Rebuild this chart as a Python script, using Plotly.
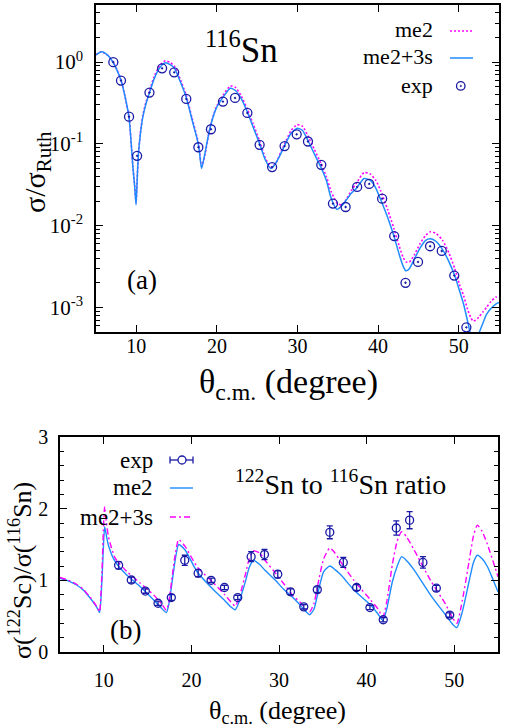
import plotly.graph_objects as go
from plotly.subplots import make_subplots

W, H = 506, 728
FONT = "Liberation Serif, Times New Roman, serif"
BLUE = "#1e8cff"
MAGENTA = "#ff00ff"
NAVY = "#1a1aa6"

# ---- panel (a): 116Sn angular distribution (ratio to Rutherford) ----
theta_a = [5.0, 5.7, 6.5, 7.15, 7.6, 8.1, 8.6, 9.1, 9.58, 9.8, 9.97, 10.1, 10.25, 10.5, 10.82,
           11.2, 11.63, 12.2, 12.9, 13.6, 14.2, 14.7, 15.45, 16.2, 16.9, 17.5, 17.77, 18.1, 18.5,
           19.1, 19.9, 20.75, 21.67, 22.3, 23.0, 23.78, 24.5, 25.3, 26.0, 26.7, 27.3, 27.9, 28.4,
           29.2, 29.96, 30.6, 31.3, 32.1, 32.9, 33.57, 34.19, 34.9, 35.5, 36.05, 36.7, 37.3, 38.25,
           39.0, 39.7, 40.3, 41.2, 41.97, 42.6, 43.1, 43.45, 43.9, 44.5, 45.2, 45.9, 46.5, 47.2,
           48.0, 48.8, 49.5, 50.1, 50.6, 51.1, 51.5, 51.8, 52.1, 52.5, 53.0, 53.45, 54.0, 54.6, 55.0]
me2_3s_a = [1.23, 1.34, 1.2, 0.98, 0.8, 0.6, 0.38, 0.21, 0.052, 0.03, 0.018, 0.035, 0.071, 0.13, 0.215,
            0.31, 0.42, 0.62, 0.85, 0.98, 0.93, 0.85, 0.58, 0.37, 0.2, 0.12, 0.09, 0.05, 0.075,
            0.15, 0.27, 0.37, 0.48, 0.45, 0.36, 0.245, 0.16, 0.1, 0.064, 0.05, 0.058, 0.075, 0.095,
            0.135, 0.155, 0.147, 0.11, 0.075, 0.052, 0.036, 0.0215, 0.0158, 0.0175, 0.0205, 0.025, 0.0285, 0.0377,
            0.036, 0.029, 0.021, 0.0125, 0.0074, 0.0045, 0.0032, 0.0028, 0.003, 0.0039, 0.0053, 0.0066, 0.0069, 0.0064,
            0.0051, 0.0036, 0.00245, 0.0016, 0.0011, 0.00068, 0.00045, 0.00033, 0.00036, 0.00048, 0.00064, 0.00082, 0.00097, 0.0011, 0.00115]
me2_a = [1.23, 1.34, 1.2, 0.99, 0.81, 0.6, 0.38, 0.21, 0.052, 0.031, 0.019, 0.036, 0.072, 0.135, 0.225,
         0.325, 0.44, 0.66, 0.91, 1.04, 0.99, 0.9, 0.62, 0.39, 0.21, 0.125, 0.094, 0.053, 0.072,
         0.15, 0.28, 0.39, 0.51, 0.49, 0.39, 0.265, 0.175, 0.108, 0.068, 0.052, 0.058, 0.078, 0.1,
         0.145, 0.172, 0.165, 0.125, 0.085, 0.058, 0.04, 0.026, 0.019, 0.0178, 0.021, 0.027, 0.033, 0.0445,
         0.043, 0.036, 0.027, 0.0155, 0.0092, 0.0057, 0.0041, 0.0036, 0.0036, 0.0044, 0.006, 0.0076, 0.0084, 0.008,
         0.0066, 0.0046, 0.003, 0.0019, 0.0014, 0.00095, 0.00075, 0.00068, 0.0007, 0.00076, 0.00088, 0.001, 0.00118, 0.00133, 0.00139]
exp_theta_a = [7.15, 8.1, 9.1, 10.1, 11.63, 13.2, 14.7, 16.2, 17.7, 19.26, 20.75, 22.25, 23.78, 25.3, 26.85,
               28.4, 29.9, 31.3, 32.95, 34.4, 35.97, 37.4, 38.9, 40.5, 42.0, 43.4, 44.95, 46.45, 47.9, 49.45, 50.95]
exp_a = [1.0, 0.595, 0.215, 0.0714, 0.424, 0.84, 0.75, 0.355, 0.091, 0.151, 0.329, 0.365, 0.239, 0.0975, 0.052,
         0.094, 0.131, 0.107, 0.0554, 0.0186, 0.0169, 0.0298, 0.0324, 0.0214, 0.00745, 0.002, 0.0036, 0.0056, 0.0049, 0.00245, 0.00057]

# ---- panel (b): 122Sn / 116Sn ratio ----
theta_b = [5.0, 6.0, 6.9, 7.7, 8.46, 9.0, 9.3, 9.52, 9.65, 9.8, 9.95, 10.1, 10.3, 10.55, 11.3, 12.65, 14.17,
           15.7, 16.6, 17.14, 17.45, 17.8, 18.2, 18.55, 19.3, 20.65, 22.55, 23.8, 24.5, 25.0, 25.5, 26.2,
           26.6, 27.1, 27.8, 28.4, 29.6, 30.5, 31.5, 32.6, 33.1, 33.5, 34.0, 34.4, 35.1, 35.8, 36.4, 37.03,
           38.55, 40.46, 41.3, 41.85, 42.3, 42.94, 43.5, 44.0, 44.6, 45.4, 47.3, 49.0, 49.8, 50.3, 50.9,
           51.69, 52.2, 52.65, 53.2, 53.8, 54.4, 55.0]
me2_b = [1.03, 0.99, 0.935, 0.86, 0.75, 0.66, 0.6, 0.55, 0.7, 1.03, 1.45, 1.75, 1.62, 1.48, 1.26, 1.07, 0.91,
         0.725, 0.61, 0.55, 0.68, 0.98, 1.32, 1.5, 1.42, 1.12, 0.865, 0.72, 0.63, 0.59, 0.72, 1.0,
         1.18, 1.28, 1.22, 1.14, 1.0, 0.88, 0.77, 0.63, 0.56, 0.52, 0.6, 0.8, 1.12, 1.2, 1.15, 1.08,
         0.865, 0.655, 0.53, 0.44, 0.6, 0.98, 1.2, 1.33, 1.27, 1.15, 0.795, 0.52, 0.39, 0.34, 0.55,
         0.98, 1.25, 1.35, 1.3, 1.19, 1.02, 0.84]
me2_3s_b = [1.04, 1.0, 0.945, 0.87, 0.76, 0.67, 0.61, 0.56, 0.75, 1.15, 1.7, 2.03, 1.8, 1.6, 1.31, 1.12, 0.96,
            0.795, 0.67, 0.585, 0.72, 1.05, 1.4, 1.57, 1.47, 1.19, 0.96, 0.8, 0.7, 0.64, 0.78, 1.1,
            1.3, 1.41, 1.38, 1.28, 1.1, 0.96, 0.8, 0.67, 0.6, 0.56, 0.68, 0.92, 1.3, 1.45, 1.38, 1.26,
            1.0, 0.725, 0.6, 0.49, 0.7, 1.22, 1.55, 1.68, 1.6, 1.43, 1.0, 0.67, 0.48, 0.4, 0.7,
            1.26, 1.62, 1.77, 1.68, 1.5, 1.28, 1.05]
exp_theta_b = [11.69, 13.14, 14.74, 16.19, 17.71, 19.24, 20.77, 22.25, 23.77, 25.29, 26.82, 28.34, 29.86,
               31.31, 32.83, 34.37, 35.8, 37.34, 38.86, 40.38, 41.9, 43.39, 44.91, 46.43, 47.96, 49.49]
exp_b = [1.21, 1.005, 0.85, 0.68, 0.76, 1.28, 1.10, 1.0, 0.90, 0.76, 1.33, 1.36, 1.085,
         0.84, 0.63, 0.87, 1.67, 1.25, 0.90, 0.62, 0.45, 1.73, 1.84, 1.25, 0.89, 0.515]
exp_err_b = [0.05, 0.04, 0.03, 0.03, 0.04, 0.07, 0.05, 0.03, 0.03, 0.03, 0.07, 0.07, 0.05,
             0.04, 0.03, 0.04, 0.09, 0.07, 0.04, 0.03, 0.03, 0.10, 0.12, 0.08, 0.04, 0.03]

log_major = [1e-3, 1e-2, 1e-1, 1.0]
log_major_text = ["10<sup>-3</sup>", "10<sup>-2</sup>", "10<sup>-1</sup>", "10<sup>0</sup>"]
log_minor = [m * 10.0 ** e for e in range(-4, 1) for m in range(2, 10) if 5e-4 <= m * 10.0 ** e <= 5]


def px(x):
    return x / W


def py(y):
    return 1 - y / H


fig = make_subplots(rows=2, cols=1)

fig.add_trace(go.Scatter(x=theta_a, y=me2_a, mode="lines", line=dict(color=MAGENTA, width=1.6, dash="2px,2px", shape="spline", smoothing=0.6)), row=1, col=1)
fig.add_trace(go.Scatter(x=theta_a, y=me2_3s_a, mode="lines", line=dict(color=BLUE, width=1.5, shape="spline", smoothing=0.6)), row=1, col=1)
fig.add_trace(go.Scatter(x=exp_theta_a, y=exp_a, mode="markers",
                         marker=dict(symbol="circle-open-dot", size=9, color=NAVY, line=dict(width=1.3, color=NAVY))), row=1, col=1)

fig.add_hline(y=1, line=dict(color="black", width=1.3, dash="dot"), row=2, col=1)
fig.add_trace(go.Scatter(x=theta_b, y=me2_b, mode="lines", line=dict(color=BLUE, width=1.4, shape="spline", smoothing=0.6)), row=2, col=1)
fig.add_trace(go.Scatter(x=theta_b, y=me2_3s_b, mode="lines", line=dict(color=MAGENTA, width=1.4, dash="6px,3px,2px,3px", shape="spline", smoothing=0.6)), row=2, col=1)
fig.add_trace(go.Scatter(x=exp_theta_b, y=exp_b, mode="markers",
                         error_y=dict(type="data", array=exp_err_b, color=NAVY, thickness=1.3, width=3),
                         marker=dict(symbol="circle-open", size=8, color=NAVY, line=dict(width=1.3, color=NAVY))), row=2, col=1)

axis_common = dict(showline=True, linecolor="black", linewidth=1.5, mirror="ticks", ticks="inside",
                   tickcolor="black", tickwidth=1.2, ticklen=7, showgrid=False, zeroline=False, automargin=False,
                   tickfont=dict(family=FONT, size=20, color="black"))

fig.update_xaxes(axis_common, range=[5, 55], tickvals=[10, 20, 30, 40, 50])
fig.update_xaxes(domain=[px(96), px(499)], ticklabelstandoff=-5, row=1, col=1)
fig.update_xaxes(domain=[px(60), px(498)], ticklabelstandoff=9, row=2, col=1)
fig.update_yaxes(axis_common)
fig.update_yaxes(type="log", range=[-3.301, 0.699], domain=[py(332), py(5)],
                 tickvals=log_major, ticktext=log_major_text, ticklabelstandoff=7,
                 tickfont=dict(family=FONT, size=21, color="black"),
                 minor=dict(tickmode="array", tickvals=log_minor, ticks="inside", ticklen=4, tickcolor="black"),
                 row=1, col=1)
fig.update_yaxes(range=[0, 3], domain=[py(652), py(437)], tickvals=[0, 1, 2, 3], ticklabelstandoff=6,
                 minor=dict(dtick=0.2, ticks="inside", ticklen=4, tickcolor="black"),
                 row=2, col=1)

annotations = [
    dict(x=px(288), y=py(384), text="θ<sub>c.m.</sub> (degree)", font=dict(size=34)),
    dict(x=px(277), y=py(712), text="θ<sub>c.m.</sub> (degree)", font=dict(size=26)),
    dict(x=px(37), y=py(172), text="σ/σ<sub>Ruth</sub>", textangle=-90, font=dict(size=30)),
    dict(x=px(20), y=py(571), text="σ(<sup>122</sup>Sc)/σ(<sup>116</sup>Sn)", textangle=-90, font=dict(size=26)),
    dict(x=px(241), y=py(48), text="<sup>116</sup>Sn", font=dict(size=35)),
    dict(x=px(340), y=py(482), text="<sup>122</sup>Sn to <sup>116</sup>Sn ratio", font=dict(size=28)),
    dict(x=px(142), y=py(280), text="(a)", font=dict(size=27)),
    dict(x=px(125), y=py(630), text="(b)", font=dict(size=27)),
]
for label, row_y in zip(["me2", "me2+3s", "exp"], [30, 57, 85]):
    annotations.append(dict(x=px(435), y=py(row_y), text=label, xanchor="right", font=dict(size=22)))
for label, row_y in zip(["exp", "me2", "me2+3s"], [460, 488, 517]):
    annotations.append(dict(x=px(155), y=py(row_y), text=label, xanchor="right", font=dict(size=23)))
for a in annotations:
    a.setdefault("xanchor", "center")
    a.update(xref="paper", yref="paper", yanchor="middle", showarrow=False)
    a["font"] = {"family": FONT, "color": "black", **a["font"]}

shapes = [
    dict(type="line", x0=px(450), x1=px(473), y0=py(31), y1=py(31), line=dict(color=MAGENTA, width=1.6, dash="2px,2px")),
    dict(type="line", x0=px(450), x1=px(473), y0=py(58), y1=py(58), line=dict(color=BLUE, width=1.5)),
    dict(type="circle", x0=px(456.5), x1=px(465), y0=py(81.7), y1=py(90.2), line=dict(color=NAVY, width=1.3)),
    dict(type="circle", x0=px(460), x1=px(461.6), y0=py(85.2), y1=py(86.8), line=dict(color=NAVY, width=0.5), fillcolor=NAVY),
    dict(type="line", x0=px(170), x1=px(193), y0=py(460), y1=py(460), line=dict(color=NAVY, width=1.3)),
    dict(type="line", x0=px(170), x1=px(170), y0=py(456.5), y1=py(463.5), line=dict(color=NAVY, width=1.3)),
    dict(type="line", x0=px(193), x1=px(193), y0=py(456.5), y1=py(463.5), line=dict(color=NAVY, width=1.3)),
    dict(type="circle", x0=px(178), x1=px(186), y0=py(456), y1=py(464), line=dict(color=NAVY, width=1.3), fillcolor="white"),
    dict(type="line", x0=px(170), x1=px(193), y0=py(488), y1=py(488), line=dict(color=BLUE, width=1.4)),
    dict(type="line", x0=px(170), x1=px(193), y0=py(517), y1=py(517), line=dict(color=MAGENTA, width=1.4, dash="6px,3px,2px,3px")),
]
for s in shapes:
    s.update(xref="paper", yref="paper")

fig.update_layout(
    width=W,
    height=H,
    margin=dict(l=0, r=0, t=0, b=0),
    showlegend=False,
    plot_bgcolor="white",
    paper_bgcolor="white",
    font=dict(family=FONT, size=20, color="black"),
    annotations=annotations,
    shapes=list(fig.layout.shapes) + shapes,
)

# the page's default body margin would push the whole figure 8px right/down
fig.write_html("out.html", config={"displayModeBar": False},
               post_script="document.body.style.margin = '0px';")
